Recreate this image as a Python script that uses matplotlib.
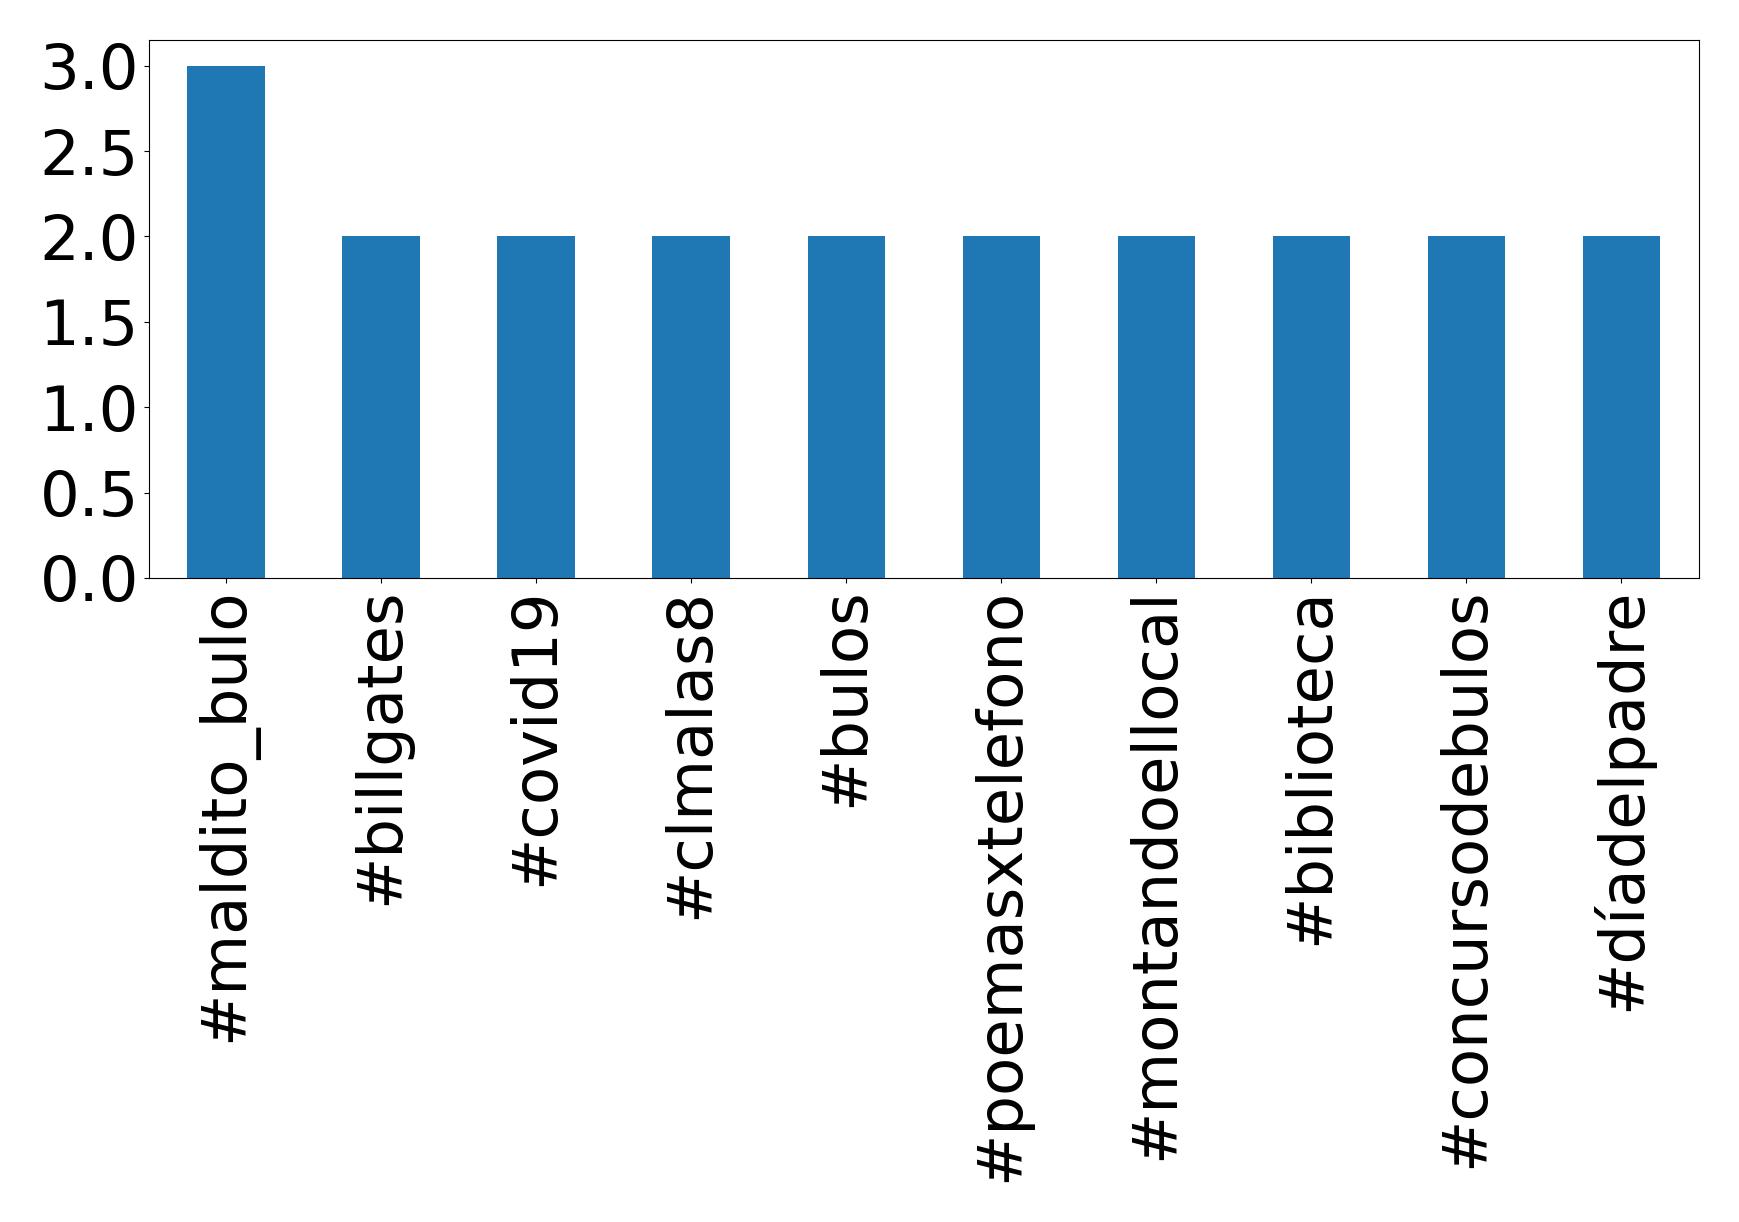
import matplotlib.pyplot as plt
import numpy as np

hashtags = ['#maldito_bulo', '#billgates', '#covid19', '#clmalas8', '#bulos',
            '#poemasxtelefono', '#montandoellocal', '#biblioteca',
            '#concursodebulos', '#díadelpadre']
counts = [3, 2, 2, 2, 2, 2, 2, 2, 2, 2]

fig = plt.figure(figsize=(17.39, 12.22), dpi=100)
ax = fig.add_axes([148.6 / 1739, 1 - 578 / 1222, (1699 - 148.6) / 1739, (578 - 40) / 1222])

x = np.arange(len(hashtags))
ax.bar(x, counts, width=0.5, color='#1f77b4')
ax.set_xlim(-0.5, len(hashtags) - 0.5)
ax.set_ylim(0, 3.15)
ax.set_yticks([0.0, 0.5, 1.0, 1.5, 2.0, 2.5, 3.0])
ax.set_xticks(x)
ax.set_xticklabels(hashtags, rotation=90)
ax.tick_params(axis='both', labelsize=45)

fig.savefig('out.png', dpi=100)
